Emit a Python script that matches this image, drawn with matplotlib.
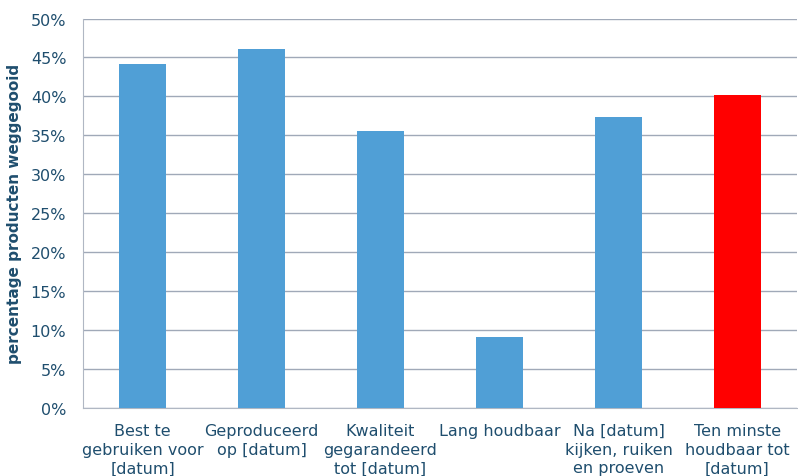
import matplotlib
matplotlib.use("Agg")
import matplotlib.pyplot as plt
from matplotlib.ticker import FuncFormatter, MultipleLocator

plt.rcParams["font.family"] = ["DejaVu Sans"]

# data
categories = [
    "Best te\ngebruiken voor\n[datum]",
    "Geproduceerd\nop [datum]",
    "Kwaliteit\ngegarandeerd\ntot [datum]",
    "Lang houdbaar",
    "Na [datum]\nkijken, ruiken\nen proeven",
    "Ten minste\nhoudbaar tot\n[datum]",
]
values = [44.1, 46.1, 35.5, 9.1, 37.4, 40.2]
bar_colors = ["#509FD6", "#509FD6", "#509FD6", "#509FD6", "#509FD6", "#FF0000"]

text_color = "#1F4E6E"

fig = plt.figure(figsize=(7.98, 4.77), dpi=100)
ax = fig.add_axes([83 / 798, 68 / 477, 714 / 798, 389.5 / 477])

x = range(len(categories))
ax.bar(x, values, width=0.4, color=bar_colors, zorder=3)

ax.set_xlim(-0.5, len(categories) - 0.5)
ax.set_ylim(0, 50)
ax.yaxis.set_major_locator(MultipleLocator(5))
ax.yaxis.set_major_formatter(FuncFormatter(lambda v, p: "%d%%" % v))
ax.grid(axis="y", color="#A0A9B8", linewidth=1.0, zorder=0)

ax.set_xticks(list(x))
ax.set_xticklabels(categories, fontsize=11.5, color=text_color, linespacing=1.3)
ax.tick_params(axis="y", labelsize=11.5, labelcolor=text_color, length=0, pad=12)
ax.tick_params(axis="x", length=0, pad=11)

ax.set_ylabel("percentage producten weggegooid", fontsize=11, fontweight="bold",
              color=text_color, labelpad=6)

# only the left and bottom axis lines, light gray like the original
for side in ["top", "right"]:
    ax.spines[side].set_visible(False)
ax.spines["left"].set_color("#B0B7C3")
ax.spines["bottom"].set_color("#B0B7C3")

fig.savefig("out.png", dpi=100)
plt.close(fig)
